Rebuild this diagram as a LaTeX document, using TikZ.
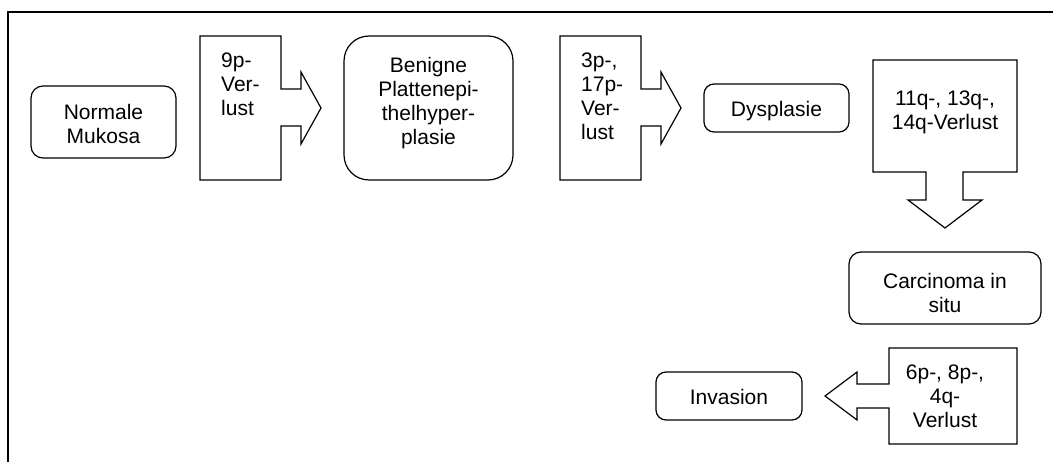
\documentclass[tikz,border=0pt]{standalone}
\usepackage{fontspec}
\setmainfont{Liberation Sans}
\begin{document}
\begin{tikzpicture}[x=1pt,y=-1pt,
  txt/.style={font=\fontsize{21}{24}\selectfont, inner sep=0pt},
  stage/.style={draw, line width=1.2pt, rounded corners=#1, inner sep=0pt},
  stage/.default=10,
  callout/.style={draw, line width=1.2pt, line join=miter},
  frame/.style={draw, line width=2pt}]
\useasboundingbox (0,0) rectangle (1053,462);

% open frame: left and top edges
\draw[frame] (8,462) -- (8,12) -- (1053,12);

% stages (rounded boxes)
\node[stage=12, minimum width=145pt, minimum height=72pt] (muk) at (103.5,122) {};
\node[txt, align=center] (mukT) at (103.5,124) {Normale\\Mukosa};

\node[stage=25, minimum width=169pt, minimum height=144pt] (ben) at (428.5,108) {};
\node[txt, align=center] (benT) at (428.5,103) {Benigne\\Plattenepi-\\thelhyper-\\plasie};

\node[stage=10, minimum width=145pt, minimum height=48pt] (dys) at (776.5,108) {};
\node[txt] (dysT) at (776.5,111.5) {Dysplasie};

\node[stage=12, minimum width=192pt, minimum height=72pt] (cis) at (945,288) {};
\node[txt, align=center] (cisT) at (945,292.5) {Carcinoma in\\situ};

\node[stage=10, minimum width=146pt, minimum height=48pt] (inv) at (729,396) {};
\node[txt] (invT) at (729,397) {Invasion};

% callout arrows with the chromosomal losses
\draw[callout] (200,36) -- (281,36) -- (281,89) -- (301,89) -- (301,72)
  -- (321,108) -- (301,144) -- (301,126) -- (281,126) -- (281,180)
  -- (200,180) -- cycle;
\node[txt, align=left, anchor=west] (c9) at (221,84) {9p-\\Ver-\\lust};

\draw[callout] (560,36) -- (641,36) -- (641,89) -- (661,89) -- (661,72)
  -- (681,108) -- (661,144) -- (661,126) -- (641,126) -- (641,180)
  -- (560,180) -- cycle;
\node[txt, align=left, anchor=west] (c3) at (581,96) {3p-,\\17p-\\Ver-\\lust};

\draw[callout] (873,60) -- (1017,60) -- (1017,172) -- (963,172) -- (963,200)
  -- (982,200) -- (945,228) -- (908,200) -- (926,200) -- (926,172)
  -- (873,172) -- cycle;
\node[txt, align=center] (c11) at (945,112.5) {11q-, 13q-,\\14q-Verlust};

\draw[callout] (889,348) -- (1017,348) -- (1017,444) -- (889,444) -- (889,408)
  -- (857,408) -- (857,420) -- (825,396) -- (857,372) -- (857,384)
  -- (889,384) -- cycle;
\node[txt, align=center] (c6) at (945,396.5) {6p-, 8p-,\\4q-\\Verlust};
\end{tikzpicture}
\end{document}
